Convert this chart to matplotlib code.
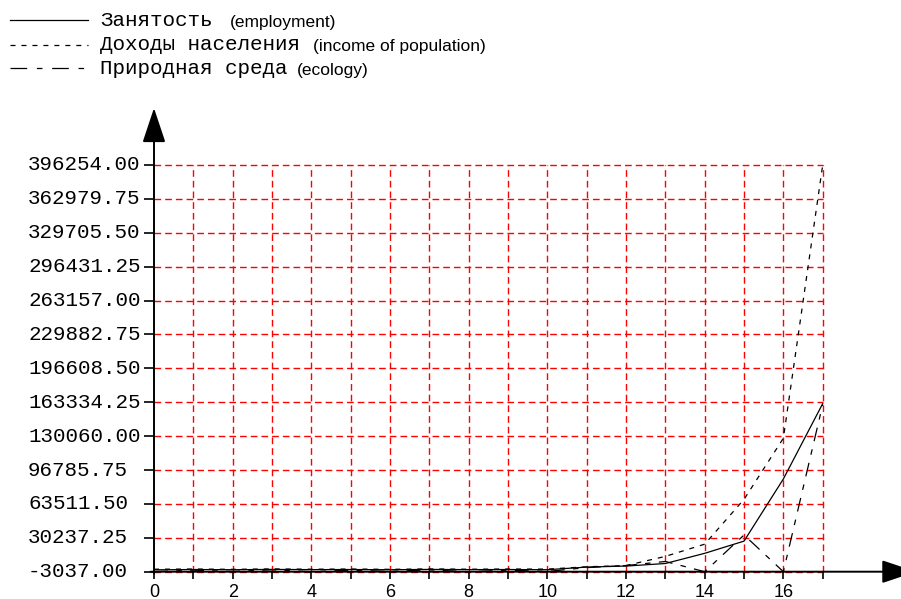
import matplotlib
matplotlib.use("Agg")
import matplotlib.pyplot as plt
from matplotlib.lines import Line2D
import matplotlib.transforms as mtransforms

plt.rcParams['lines.scale_dashes'] = False

# --- donnees ---
annees = list(range(18))
emploi = [-1200, -900, -1100, -800, -1000, -900, -1100, -800, -1000, -900,
          -1100, 1500, 2500, 5000, 15000, 27000, 88000, 162000]
revenus = [-600, -400, -700, -300, -600, -400, -700, -300, -600, -400,
           -500, 1800, 3000, 12000, 24000, 68000, 128000, 396254]
ecologie = [-3037, -1500, -2800, -1200, -3037, -1500, -2800, -1200, -3037, -1500,
            -2800, 1000, 3000, 7000, -3037, 33000, -3037, 161000]

y_ticks = [-3037.00, 30237.25, 63511.50, 96785.75, 130060.00, 163334.25,
           196608.50, 229882.75, 263157.00, 296431.25, 329705.50, 362979.75,
           396254.00]
x_labels = ["0", "", "2", "", "4", "", "6", "", "8", "", "10", "", "12", "",
            "14", "", "16", ""]

W, H = 901, 599
fig = plt.figure(figsize=(W / 100, H / 100), dpi=100)
ax = fig.add_axes([154 / W, (H - 571.7) / H, (822.7 - 154) / W, (571.7 - 165) / H])
ax.set_xlim(0, 17)
ax.set_ylim(y_ticks[0], y_ticks[-1])
for s in ax.spines.values():
    s.set_visible(False)

# grille rouge en pointilles
grid_ls = (0, (4.8, 2.9))
ax.hlines(y_ticks, 0, 17, colors="#ff0000", linestyles=[grid_ls], lw=1.0,
          zorder=1, clip_on=False)
ax.vlines(annees[1:], y_ticks[0], y_ticks[-1], colors="#ff0000",
          linestyles=[grid_ls], lw=1.0, zorder=1, clip_on=False)

# courbes
ls_rev = (0, (3.6, 4.3))
ls_eco = (0, (10, 6, 4, 6))
ax.plot(annees, emploi, color="black", lw=0.9, zorder=3, clip_on=False)
ax.plot(annees, revenus, color="black", lw=0.9, linestyle=ls_rev, zorder=3, clip_on=False)
ax.plot(annees, ecologie, color="black", lw=0.9, linestyle=ls_eco, zorder=3, clip_on=False)

# graduations
ax.set_xticks(annees)
ax.set_xticklabels(x_labels, fontfamily="Liberation Sans", fontsize=13)
ax.tick_params(axis="x", direction="out", length=5, width=1.2, pad=3.5, color="black")
ax.set_yticks(y_ticks)
ax.set_yticklabels([""] * len(y_ticks))
ax.tick_params(axis="y", direction="out", length=7, width=1.2, color="black")

trans = mtransforms.blended_transform_factory(fig.transFigure, ax.transData)
for v in y_ticks:
    ax.text(28 / W, v, "%.2f" % v, transform=trans, ha="left", va="center",
            fontfamily="Liberation Mono", fontsize=15)

# axes avec fleches
fleche = dict(arrowstyle="-|>,head_length=1.08,head_width=0.36", color="black",
              lw=1.4, mutation_scale=20, shrinkA=0, shrinkB=0)
ax.annotate("", xy=(0, 1.14), xytext=(0, -0.005), xycoords="axes fraction",
            arrowprops=fleche, annotation_clip=False)
ax.annotate("", xy=(1.14, 0), xytext=(-0.005, 0), xycoords="axes fraction",
            arrowprops=fleche, annotation_clip=False)

# legende dessinee a la main
legende = [("Занятость", "(employment)", "-", 20, 230),
           ("Доходы населения", "(income of population)", ls_rev, 45, 313),
           ("Природная среда", "(ecology)", (0, (12, 7, 4, 7)), 68, 297)]
for ru, en, ls, py, px_en in legende:
    fy = 1 - py / H
    fig.add_artist(Line2D([10 / W, 88 / W], [fy, fy], color="black", lw=0.9,
                          linestyle=ls, transform=fig.transFigure))
    fig.text(100 / W, fy, ru, fontfamily="Liberation Mono", fontsize=15, va="center")
    fig.text(px_en / W, fy - 2 / H, en, fontfamily="Liberation Sans", fontsize=12.5,
             va="center")

plt.savefig("out.png", dpi=100)
